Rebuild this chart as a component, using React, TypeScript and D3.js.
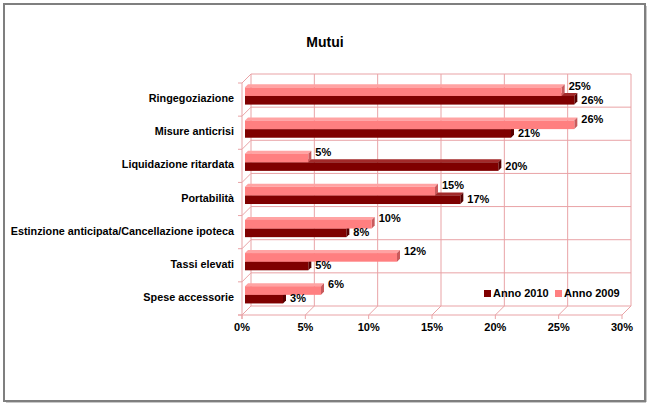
import * as d3 from "d3";
import React from "react";

const categories = [
  "Ringegoziazione",
  "Misure anticrisi",
  "Liquidazione ritardata",
  "Portabilità",
  "Estinzione anticipata/Cancellazione ipoteca",
  "Tassi elevati",
  "Spese accessorie",
];
const anno2009 = [25, 26, 5, 15, 10, 12, 6];
const anno2010 = [26, 21, 20, 17, 8, 5, 3];
const tickValues = [0, 5, 10, 15, 20, 25, 30];
const seriesNames = ["Anno 2010", "Anno 2009"];

const W = 650, H = 406;
const DEPTH = 9; // wall depth offset in px
const BAR_OFF = 3; // bar front face depth
const BAR_D = 3; // bar thickness
const font = "'Liberation Sans', Arial, sans-serif";
const gridColor = "#e9a3a6";

const light = { front: "#ff7f80", top: "#ffa3a3", side: "#c85a5c" };
const dark = { front: "#7f0000", top: "#a32a2a", side: "#560000" };

const App: React.FC = () => {
  const x = d3.scaleLinear([0, 30], [242, 622]);
  const y = d3.scaleBand(categories, [83, 315]);
  const step = y.step();
  const barH = step * 0.26;
  const x0 = x(0), x30 = x(30);
  const yTop = 83, yBot = 315;

  const bar = (v: number, top: number, col: typeof light, key: string) => {
    const a = x0 + BAR_OFF, b = x(v) + BAR_OFF;
    const t = top - BAR_OFF, h = barH, d = BAR_D;
    return (
      <g key={key}>
        <polygon points={`${a},${t} ${a + d},${t - d} ${b + d},${t - d} ${b},${t}`} fill={col.top} />
        <polygon points={`${b},${t} ${b + d},${t - d} ${b + d},${t + h - d} ${b},${t + h}`} fill={col.side} />
        <rect x={a} y={t} width={b - a} height={h} fill={col.front} />
      </g>
    );
  };

  const boundaries = d3.range(categories.length + 1).map((i) => yTop + i * step);

  return (
    <svg width={W} height={H} style={{ position: "absolute", left: 0, top: 0 }} fontFamily={font}>
      <rect x={0} y={0} width={W} height={H} fill="#fff" />
      <rect x={4} y={4} width={641} height={397} fill="#fff" stroke="#7f7f7f" strokeWidth={2} />
      <line x1={6} y1={402.5} x2={646} y2={402.5} stroke="#c8c8c8" />
      <line x1={646.5} y1={6} x2={646.5} y2={402} stroke="#c8c8c8" />

      <text x={325} y={47} textAnchor="middle" fontSize={14} fontWeight="bold">Mutui</text>

      {/* back wall */}
      <g stroke={gridColor} strokeWidth={1} fill="none">
        {tickValues.map((v) => (
          <line key={"bv" + v} x1={x(v) + DEPTH} y1={yTop - DEPTH} x2={x(v) + DEPTH} y2={yBot - DEPTH} />
        ))}
        {boundaries.map((by, i) => (
          <line key={"bh" + i} x1={x0 + DEPTH} y1={by - DEPTH} x2={x30 + DEPTH} y2={by - DEPTH} />
        ))}
        {/* left wall */}
        <line x1={x0} y1={yTop} x2={x0} y2={yBot + 4} />
        {boundaries.map((by, i) => (
          <g key={"lw" + i}>
            <line x1={x0} y1={by} x2={x0 + DEPTH} y2={by - DEPTH} />
            <line x1={x0 - 4} y1={by} x2={x0} y2={by} />
          </g>
        ))}
        {/* floor */}
        <line x1={x0 - 4} y1={yBot} x2={x30} y2={yBot} />
        {tickValues.map((v) => (
          <g key={"fl" + v}>
            <line x1={x(v)} y1={yBot} x2={x(v) + DEPTH} y2={yBot - DEPTH} />
            <line x1={x(v)} y1={yBot} x2={x(v)} y2={yBot + 4} />
          </g>
        ))}
      </g>

      {/* bars */}
      {categories.map((c, i) => {
        const center = (y(c) as number) + step / 2 - 0.6;
        return (
          <g key={c}>
            {bar(anno2010[i], center, dark, "d")}
            {bar(anno2009[i], center - barH, light, "l")}
          </g>
        );
      })}

      {/* value labels */}
      {categories.map((c, i) => {
        const center = (y(c) as number) + step / 2 - BAR_OFF;
        return (
          <g key={"lab" + c} fontSize={11} fontWeight="bold">
            <text x={x(anno2009[i]) + BAR_OFF + 7} y={center - 7}>{anno2009[i]}%</text>
            <text x={x(anno2010[i]) + BAR_OFF + 7} y={center + 7}>{anno2010[i]}%</text>
          </g>
        );
      })}

      {/* category labels */}
      {categories.map((c) => (
        <text key={"cat" + c} x={234} y={(y(c) as number) + step / 2 + 2.5} textAnchor="end" fontSize={10.8} fontWeight="bold">{c}</text>
      ))}

      {/* x tick labels */}
      {tickValues.map((v) => (
        <text key={"t" + v} x={x(v)} y={331} textAnchor="middle" fontSize={11} fontWeight="bold">{v}%</text>
      ))}

      {/* legend */}
      <rect x={484} y={290} width={7} height={7} fill={dark.front} />
      <text x={493} y={297} fontSize={11} fontWeight="bold">{seriesNames[0]}</text>
      <rect x={555} y={290} width={7} height={7} fill={light.front} />
      <text x={564} y={297} fontSize={11} fontWeight="bold">{seriesNames[1]}</text>
    </svg>
  );
};

export default App;
